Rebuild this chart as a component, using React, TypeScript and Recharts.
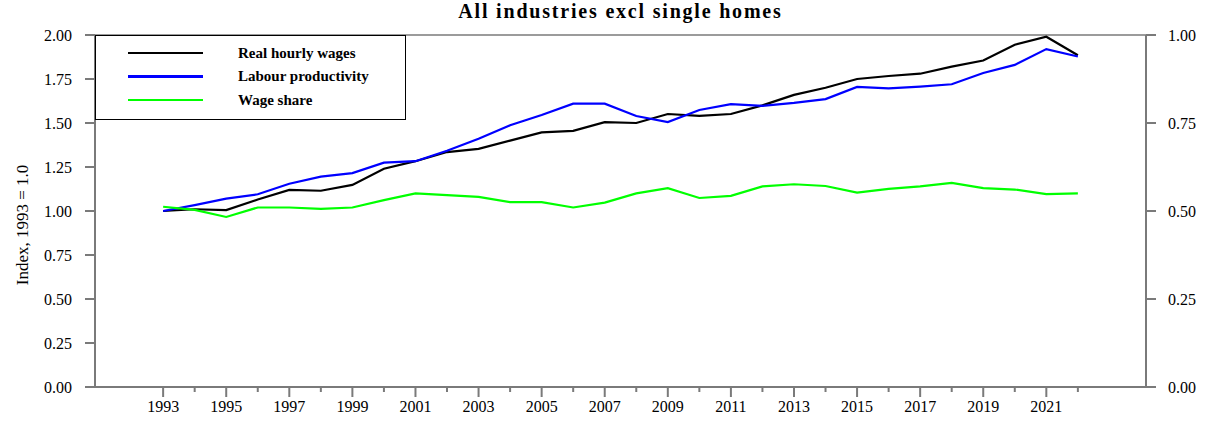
import {
  LineChart,
  Line,
  XAxis,
  YAxis,
  ReferenceLine,
} from 'recharts'

const years = [
  1993, 1994, 1995, 1996, 1997, 1998, 1999, 2000, 2001, 2002, 2003, 2004, 2005, 2006, 2007,
  2008, 2009, 2010, 2011, 2012, 2013, 2014, 2015, 2016, 2017, 2018, 2019, 2020, 2021, 2022,
]

// left axis, index 1993 = 1.0
const realWages = [
  1.0, 1.01, 1.005, 1.065, 1.12, 1.115, 1.148, 1.24, 1.283, 1.335, 1.353, 1.4, 1.447, 1.455, 1.505,
  1.5, 1.551, 1.54, 1.551, 1.6, 1.66, 1.7, 1.75, 1.767, 1.78, 1.82, 1.855, 1.945, 1.99, 1.885,
]

const productivity = [
  1.0, 1.033, 1.07, 1.095, 1.155, 1.195, 1.215, 1.275, 1.283, 1.342, 1.41, 1.487, 1.545, 1.61, 1.61,
  1.54, 1.505, 1.574, 1.607, 1.597, 1.614, 1.636, 1.705, 1.697, 1.707, 1.72, 1.784, 1.83, 1.92, 1.878,
]

// right axis, share
const wageShare = [
  0.512, 0.503, 0.483, 0.51, 0.51, 0.506, 0.51, 0.531, 0.55, 0.545, 0.54, 0.525, 0.525, 0.51, 0.524,
  0.55, 0.565, 0.537, 0.543, 0.57, 0.576, 0.571, 0.552, 0.563, 0.57, 0.58, 0.565, 0.561, 0.548, 0.55,
]

const leftTicks = [0, 0.25, 0.5, 0.75, 1, 1.25, 1.5, 1.75, 2]
const rightTicks = [0, 0.25, 0.5, 0.75, 1]

const series = [
  { key: 'wages', name: 'Real hourly wages', color: '#000000', axis: 'left' },
  { key: 'productivity', name: 'Labour productivity', color: '#0000ff', axis: 'left' },
  { key: 'share', name: 'Wage share', color: '#00ff00', axis: 'right' },
]

const FONT = '"Liberation Serif", "Times New Roman", serif'
const AXIS = '#7a7a7a'

const data = years.map((year, i) => ({
  year,
  wages: realWages[i],
  productivity: productivity[i],
  share: wageShare[i],
}))

// eslint-disable-next-line @typescript-eslint/no-explicit-any
function YearTick({ x, y, payload }: any) {
  const labelled = payload.value % 2 === 1
  return (
    <g>
      <line x1={x} x2={x} y1={y} y2={y + (labelled ? 10 : 5)} stroke={AXIS} strokeWidth={2} />
      {labelled && (
        <text x={x} y={y + 25} textAnchor="middle" fontSize={16} fontFamily={FONT} fill="#000">
          {payload.value}
        </text>
      )}
    </g>
  )
}

function ChartLegend() {
  return (
    <div
      style={{
        position: 'absolute',
        left: 95,
        top: 35,
        width: 309,
        height: 83,
        border: '1px solid #000',
        background: '#fff',
        fontFamily: FONT,
      }}
    >
      {series.map((s, i) => (
        <div
          key={s.key}
          style={{ position: 'absolute', left: 32, top: 7 + i * 23.5, height: 20, display: 'flex', alignItems: 'center' }}
        >
          <div style={{ width: 75, height: 2.5, background: s.color }} />
          <span style={{ marginLeft: 35, fontSize: 15, fontWeight: 'bold', color: '#000' }}>{s.name}</span>
        </div>
      ))}
    </div>
  )
}

export default function App() {
  return (
    <div style={{ position: 'absolute', left: 0, top: 0, width: 1207, height: 440, background: '#fff' }}>
      <div
        style={{
          position: 'absolute',
          left: 0,
          width: 1241,
          top: 0,
          textAlign: 'center',
          fontFamily: FONT,
          fontWeight: 'bold',
          fontSize: 20,
          letterSpacing: 1.8,
          color: '#000',
        }}
      >
        All industries excl single homes
      </div>
      <LineChart
        width={1207}
        height={440}
        data={data}
        margin={{ top: 35, right: 0, bottom: 0, left: 0 }}
        style={{ position: 'absolute', left: 0, top: 0 }}
      >
        <XAxis
          dataKey="year"
          type="number"
          domain={[1990.84, 2024.16]}
          ticks={years}
          interval={0}
          height={53}
          tickSize={0}
          tickMargin={0}
          tickLine={false}
          tick={<YearTick />}
          axisLine={{ stroke: AXIS, strokeWidth: 2 }}
          allowDataOverflow
        />
        <YAxis
          yAxisId="left"
          domain={[0, 2]}
          ticks={leftTicks}
          interval={0}
          width={95}
          tickSize={10}
          tickMargin={13}
          tickFormatter={(v: number) => v.toFixed(2)}
          tick={{ fill: '#000', fontSize: 16, fontFamily: FONT }}
          axisLine={{ stroke: AXIS, strokeWidth: 2 }}
          tickLine={{ stroke: AXIS, strokeWidth: 2 }}
        />
        <YAxis
          yAxisId="right"
          orientation="right"
          domain={[0, 1]}
          ticks={rightTicks}
          interval={0}
          width={61}
          tickSize={10}
          tickMargin={12}
          tickFormatter={(v: number) => v.toFixed(2)}
          tick={{ fill: '#000', fontSize: 16, fontFamily: FONT, textAnchor: 'start' }}
          axisLine={{ stroke: AXIS, strokeWidth: 2 }}
          tickLine={{ stroke: AXIS, strokeWidth: 2 }}
        />
        <ReferenceLine yAxisId="left" y={2} stroke={AXIS} strokeWidth={1.5} />
        {series.map((s) => (
          <Line
            key={s.key}
            yAxisId={s.axis}
            dataKey={s.key}
            name={s.name}
            type="linear"
            stroke={s.color}
            strokeWidth={2.2}
            dot={false}
            activeDot={false}
            isAnimationActive={false}
          />
        ))}
      </LineChart>
      <svg
        width={40}
        height={440}
        style={{ position: 'absolute', left: 0, top: 0, pointerEvents: 'none' }}
      >
        <text
          x={0}
          y={0}
          transform="translate(28, 225) rotate(-90)"
          textAnchor="middle"
          fontSize={17}
          fontFamily={FONT}
          fill="#000"
        >
          Index, 1993 = 1.0
        </text>
      </svg>
      <ChartLegend />
    </div>
  )
}
